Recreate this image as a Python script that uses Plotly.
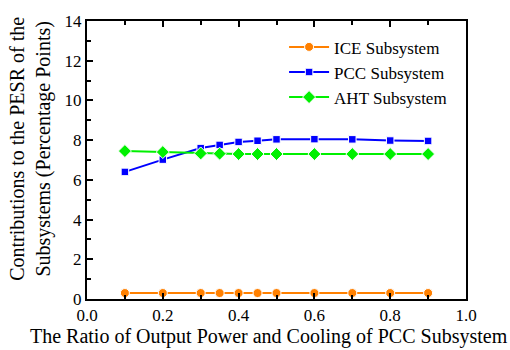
import plotly.graph_objects as go

# Ratio of output power and cooling of the PCC subsystem
ratio = [0.1, 0.2, 0.3, 0.35, 0.4, 0.45, 0.5, 0.6, 0.7, 0.8, 0.9]

# Contributions to the PESR (percentage points)
ice = [0.3, 0.3, 0.3, 0.3, 0.3, 0.3, 0.3, 0.3, 0.3, 0.3, 0.3]
pcc = [6.4, 7.02, 7.6, 7.76, 7.91, 7.97, 8.04, 8.05, 8.04, 7.98, 7.96]
aht = [7.45, 7.4, 7.33, 7.32, 7.3, 7.3, 7.3, 7.3, 7.3, 7.3, 7.3]

series_names = ["ICE Subsystem", "PCC Subsystem", "AHT Subsystem"]
x_ticks = [0.0, 0.2, 0.4, 0.6, 0.8, 1.0]
y_ticks = [0, 2, 4, 6, 8, 10, 12, 14]

FONT = "Liberation Serif, Times New Roman, serif"

styles = [
    dict(color="#FF8000", symbol="circle", size=9),
    dict(color="#0000FF", symbol="square", size=7.5),
    dict(color="#00F000", symbol="diamond", size=10),
]

fig = go.Figure()
for name, ys, st in zip(series_names, [ice, pcc, aht], styles):
    fig.add_trace(go.Scatter(
        x=ratio, y=ys, name=name, mode="lines+markers",
        line=dict(color=st["color"], width=2),
        marker=dict(symbol=st["symbol"], size=st["size"], color=st["color"],
                    line=dict(color="white", width=1)),
    ))

axis_common = dict(
    showgrid=False, zeroline=False, showline=True, linecolor="black",
    linewidth=2, ticks="inside", tickcolor="black", tickwidth=1.5,
    ticklen=6, tickfont=dict(family=FONT, size=17, color="black"),
)

fig.update_xaxes(
    range=[0, 1.0], tickvals=x_ticks, ticktext=[f"{v:.1f}" for v in x_ticks],
    mirror="ticks",
    minor=dict(ticks="inside", dtick=0.1, tick0=0, ticklen=4,
               tickcolor="black", tickwidth=1.5),
    **axis_common,
)
fig.update_yaxes(
    range=[0, 14], tickvals=y_ticks, mirror=True,
    minor=dict(ticks="inside", dtick=1, tick0=0, ticklen=4,
               tickcolor="black", tickwidth=1.5),
    **axis_common,
)

fig.add_annotation(
    text="The Ratio of Output Power and Cooling of PCC Subsystem",
    xref="paper", yref="paper", x=0.48, y=-0.135,
    xanchor="center", yanchor="middle", showarrow=False,
    font=dict(family=FONT, size=20, color="black"),
)
fig.add_annotation(
    text="Contributions to the PESR of the<br>Subsystems (Percentage Points)",
    xref="paper", yref="paper", x=-0.148, y=0.54, textangle=-90,
    xanchor="center", yanchor="middle", showarrow=False,
    font=dict(family=FONT, size=20, color="black"),
)

fig.update_layout(
    width=510, height=350,
    margin=dict(l=87, r=44, t=14, b=51),
    plot_bgcolor="white", paper_bgcolor="white",
    font=dict(family=FONT, color="black"),
    showlegend=True,
    legend=dict(
        x=0.52, y=0.97, xanchor="left", yanchor="top",
        font=dict(family=FONT, size=17, color="black"),
        bgcolor="rgba(0,0,0,0)", tracegroupgap=0, itemwidth=40,
    ),
)

fig.write_html("out.html")
